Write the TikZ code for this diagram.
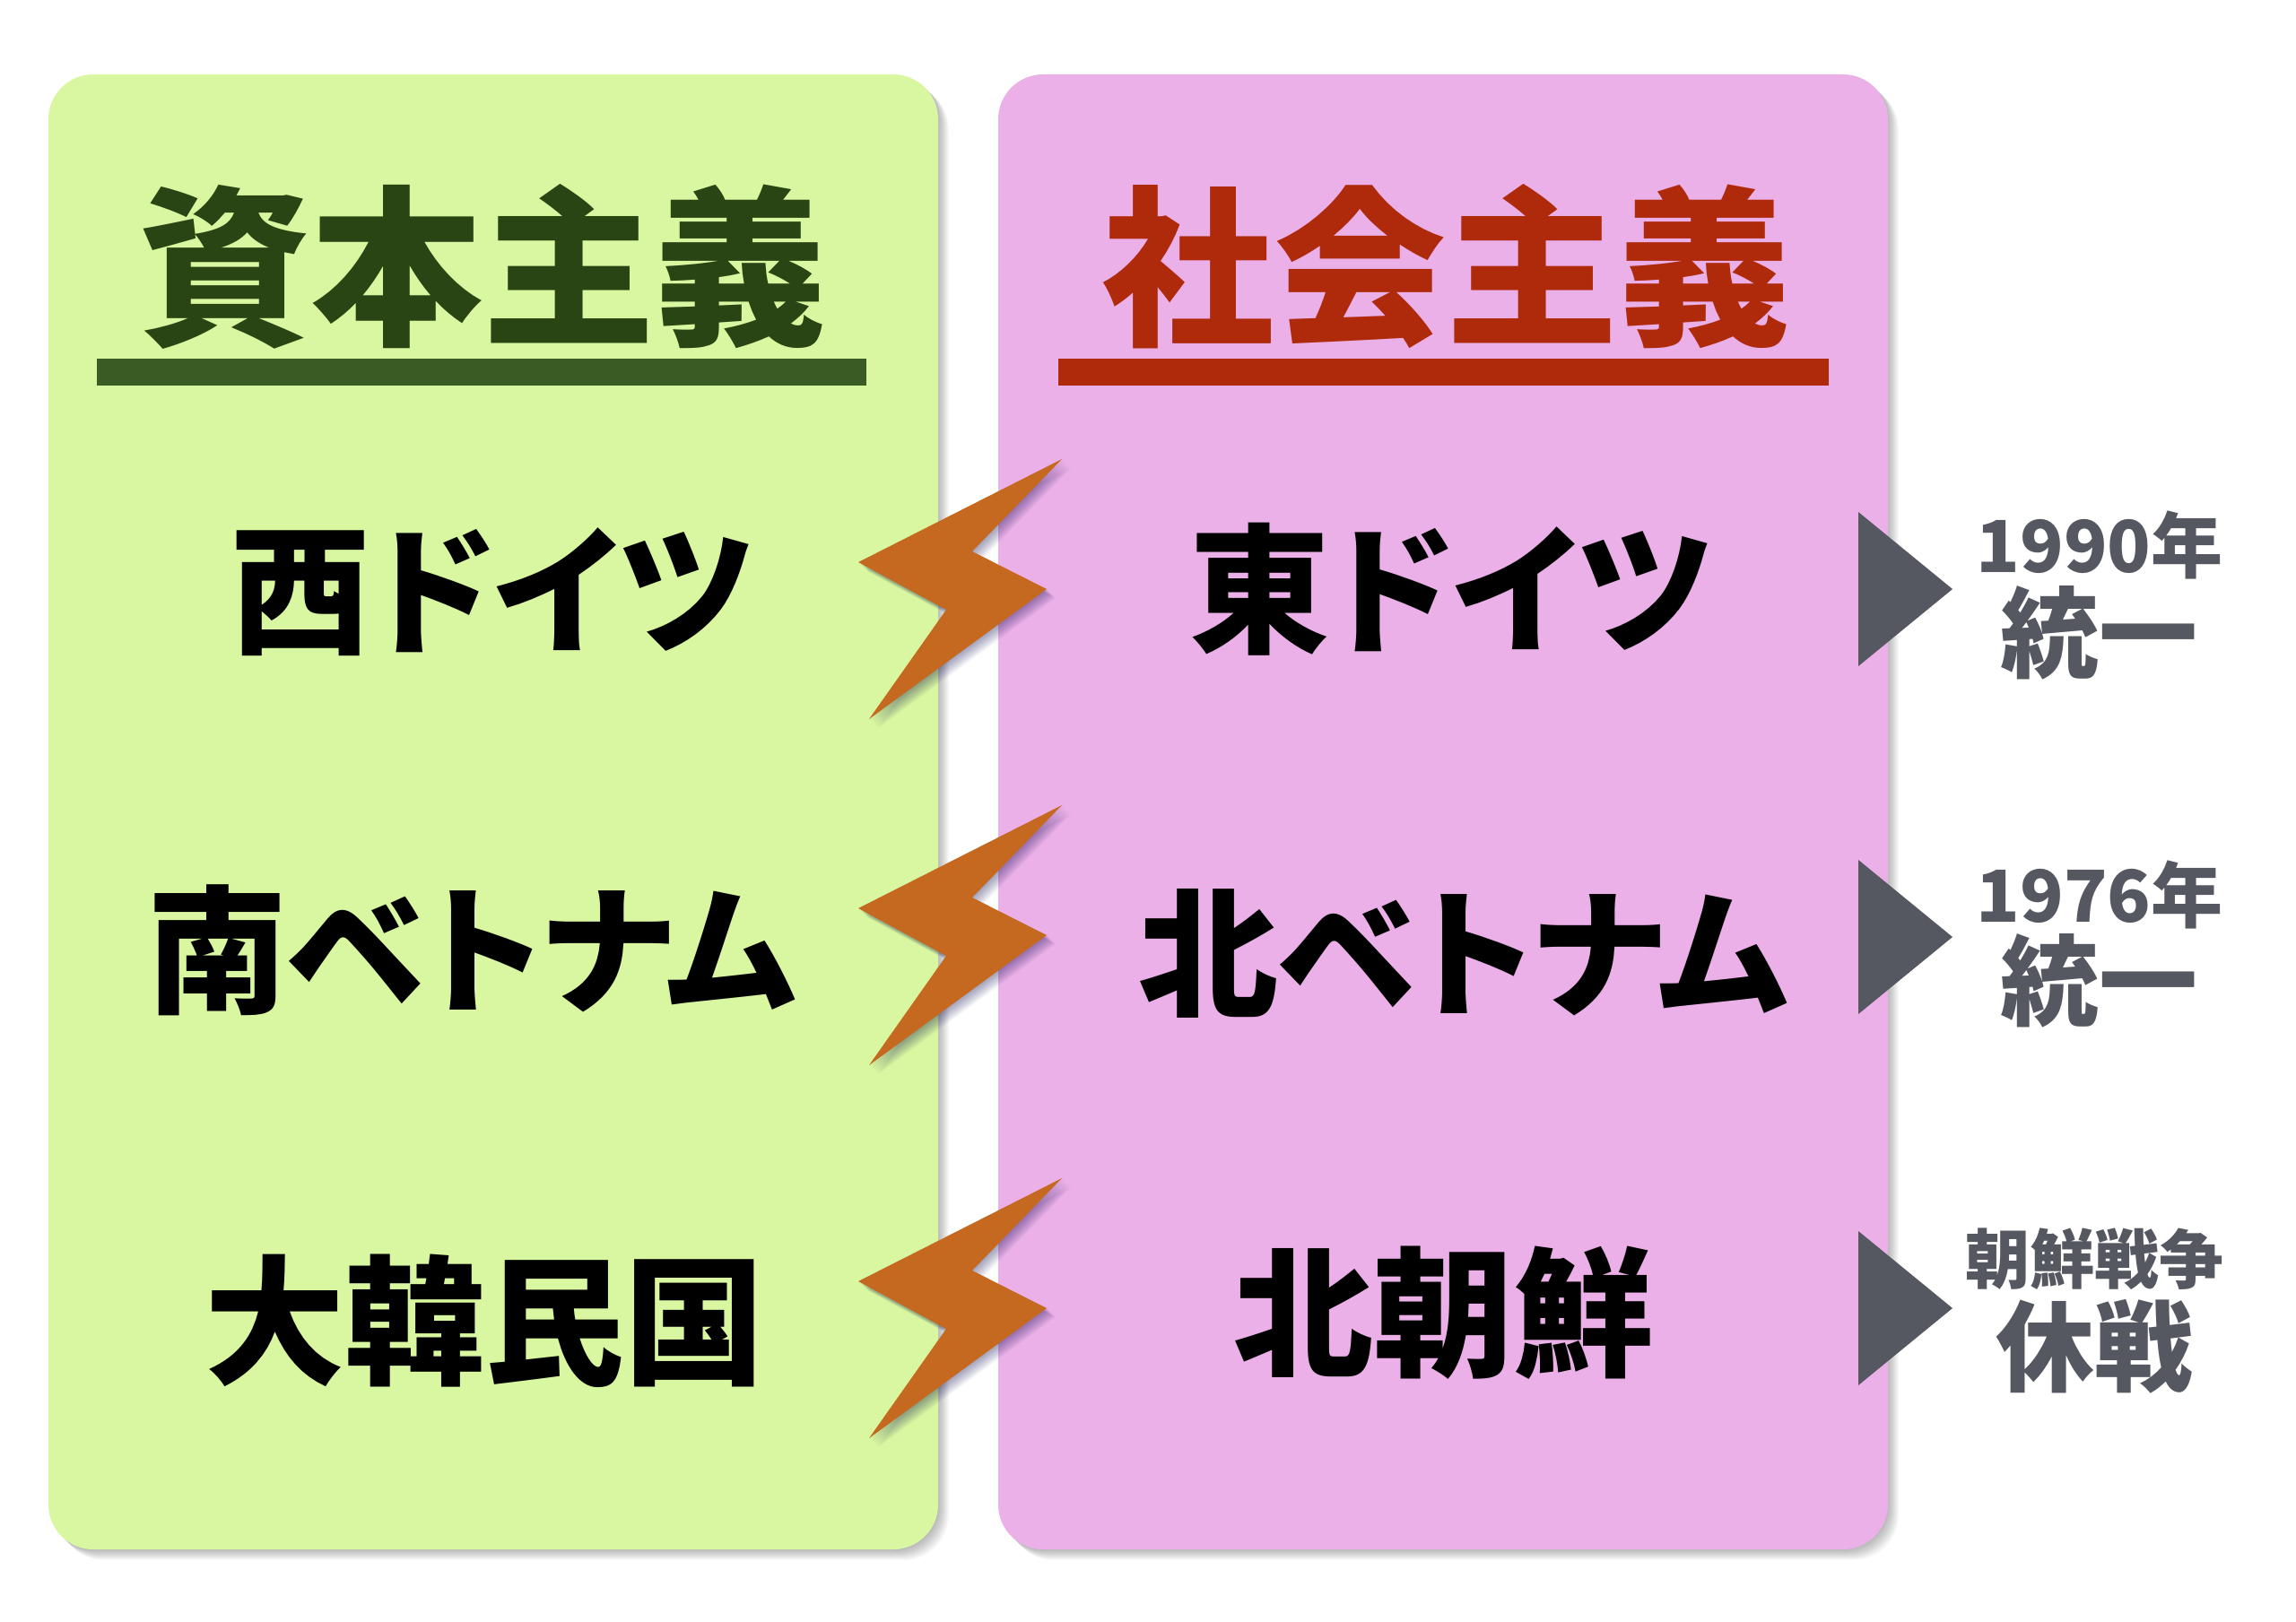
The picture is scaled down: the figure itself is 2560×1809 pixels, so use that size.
\documentclass[tikz,border=0pt]{standalone}
\usepackage{fontspec}
\newfontfamily\jp[RawFeature=+palt]{Noto Sans CJK JP}
\definecolor{boxgreen}{HTML}{D9F7A0}
\definecolor{boxpink}{HTML}{EBB0E8}
\definecolor{titlegreen}{HTML}{2A4514}
\definecolor{bargreen}{HTML}{3A5C24}
\definecolor{titlered}{HTML}{AE2A0B}
\definecolor{boltorange}{HTML}{C4691F}
\definecolor{markgray}{HTML}{555860}
\tikzset{
  panel/.style={rounded corners=25pt},
  titletext/.style={inner sep=0pt, font=\jp\bfseries\fontsize{96}{96}\selectfont},
  country/.style={inner sep=0pt, text=black, font=\jp\bfseries\fontsize{78}{78}\selectfont},
  smallnote/.style={inner sep=0pt, text=markgray, font=\jp\bfseries\fontsize{40}{40}\selectfont},
  tinynote/.style={inner sep=0pt, text=markgray, font=\jp\bfseries\fontsize{36}{36}\selectfont},
  bignote/.style={inner sep=0pt, text=markgray, font=\jp\bfseries\fontsize{55}{55}\selectfont},
  boltshape/.style={fill=boltorange},
  marker/.style={fill=markgray},
}
\newcommand{\boltpath}[1]{(1184,512+#1) -- (957,627+#1) -- (1055,680+#1) -- (969,802+#1) -- (1167,657+#1) -- (1084,615+#1) -- cycle}
\begin{document}
\begin{tikzpicture}[x=0.5pt,y=-0.5pt]
\useasboundingbox (0,0) rectangle (2560,1809);
\fill[white] (0,0) rectangle (2560,1809);
% soft shadows of the panels
\foreach \k in {1,...,12}{
  \fill[black,opacity=0.025,panel] (54+\k,83+\k) rectangle (1046+\k,1728+\k);
  \fill[black,opacity=0.025,panel] (1113+\k,83+\k) rectangle (2105+\k,1728+\k);
}
% panels
\fill[boxgreen,panel] (54,83) rectangle (1046,1728);
\fill[boxpink,panel] (1113,83) rectangle (2105,1728);
% titles
\node[titletext,text=titlegreen] (capT) at (538,297) {資本主義};
\node[titletext,text=titlered] (socT) at (1612,297) {社会主義};
\fill[bargreen] (108,400) rectangle (966,430);
\fill[titlered] (1180,400) rectangle (2039,430);
% countries
\node[country] (west) at (549,660) {西ドイツ};
\node[country] (east) at (1618,657) {東ドイツ};
\node[country] (southv) at (526,1060) {南ベトナム};
\node[country] (northv) at (1631,1063) {北ベトナム};
\node[country] (southk) at (540,1473) {大韓民国};
\node[country] (northk) at (1609,1464) {北朝鮮};
% lightning bolts with shadows
\foreach \off in {0,386,802}{
  \foreach \k in {1,...,10}{
    \fill[black!70!blue,opacity=0.04,shift={(\k,\k)}] \boltpath{\off};
  }
  \fill[boltshape] \boltpath{\off};
}
% markers
\foreach \ty in {657,1045,1459}{
  \fill[marker] (2072,\ty-86) -- (2177,\ty) -- (2072,\ty+86) -- cycle;
}
% notes
\node[smallnote] (y1) at (2341,608) {1990年};
\node[bignote] (r1) at (2340,706) {統一};
\node[smallnote] (y2) at (2341,998) {1976年};
\node[bignote] (r2) at (2340,1094) {統一};
\node[tinynote] (y3) at (2335,1404) {朝鮮戦争};
\node[bignote] (r3) at (2335,1502) {休戦};
\end{tikzpicture}
\end{document}
